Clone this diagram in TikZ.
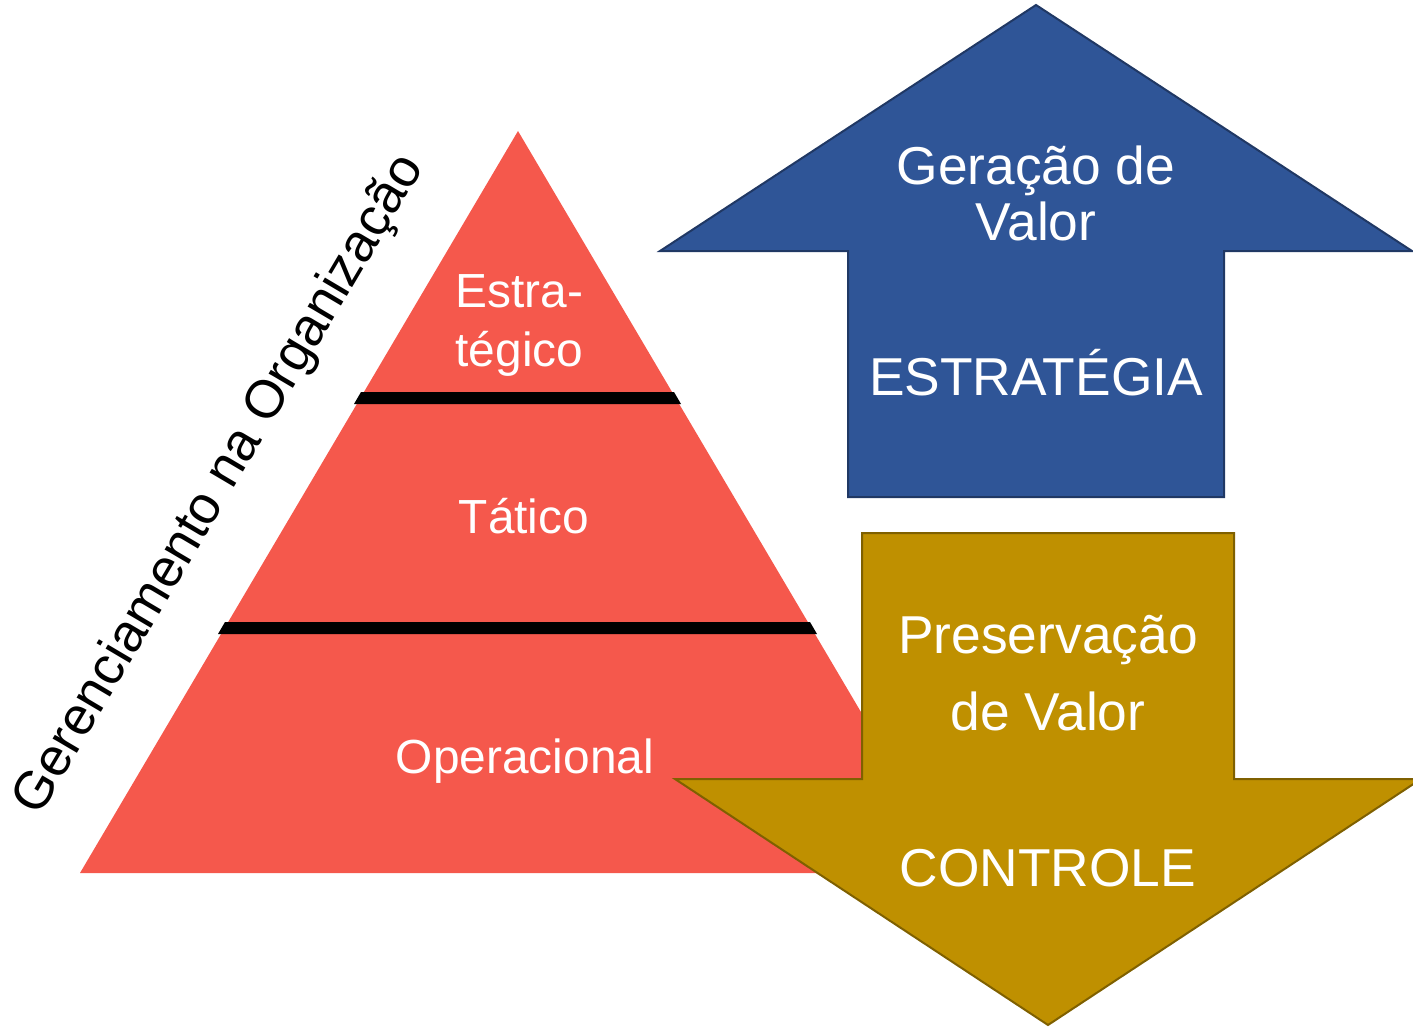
\documentclass[tikz,border=0pt]{standalone}
\usepackage{fontspec}
\setmainfont{Liberation Sans}
\definecolor{pyr}{HTML}{F5584C}
\definecolor{blu}{HTML}{2F5597}
\definecolor{bluD}{HTML}{203864}
\definecolor{gold}{HTML}{BF9000}
\definecolor{goldD}{HTML}{7F6000}
\tikzset{
  big/.style={text=white, font=\fontsize{40}{47}\selectfont, anchor=base, inner sep=0pt},
  mid/.style={text=white, font=\fontsize{35.9}{42}\selectfont, anchor=base, inner sep=0pt},
  band/.style={fill=black},
}
\begin{document}
\begin{tikzpicture}[x=0.75pt,y=-0.75pt]
\useasboundingbox (0,0) rectangle (1413,1027);
\begin{scope}
\clip (0,0) rectangle (1413,1027);
% pyramid
\coordinate (apex) at (518,131);
\coordinate (bl) at (80,873);
\coordinate (br) at (956,873);
\fill[pyr] (apex) -- (bl) -- (br) -- cycle;
\coordinate (b1a) at (361,392);
\coordinate (b1b) at (674,392);
\coordinate (b1c) at (681,404);
\coordinate (b1d) at (354,404);
\coordinate (b2a) at (225,622);
\coordinate (b2b) at (810,622);
\coordinate (b2c) at (817,634);
\coordinate (b2d) at (218,634);
\fill[band] (b1a) -- (b1b) -- (b1c) -- (b1d) -- cycle;
\fill[band] (b2a) -- (b2b) -- (b2c) -- (b2d) -- cycle;
\node[mid] (estra) at (519.5,307) {Estra-};
\node[mid] (teg) at (519.5,366) {tégico};
\node[mid] (tat) at (524,533) {Tático};
\node[mid] (oper) at (525,773) {Operacional};
% side label
\node[font=\fontsize{40}{47}\selectfont, rotate=59.4, inner sep=0pt] (ger) at (220,485) {Gerenciamento na Organização};
% up arrow
\fill[blu, draw=bluD, line width=1.5pt] (848,497) -- (848,251) -- (660,251) -- (1036,5) -- (1412,251) -- (1224,251) -- (1224,497) -- cycle;
\node[big] (ger1) at (1036,185) {Geração de};
\node[big] (ger2) at (1036,240) {Valor};
\node[big] (estr) at (1036,395) {ESTRATÉGIA};
% down arrow
\fill[gold, draw=goldD, line width=1.5pt] (862,533) -- (1234,533) -- (1234,779) -- (1421,779) -- (1048,1025) -- (675,779) -- (862,779) -- cycle;
\node[big] (pres1) at (1048,653) {Preservação};
\node[big] (pres2) at (1048,730) {de Valor};
\node[big] (ctrl) at (1048,886) {CONTROLE};
\end{scope}
\end{tikzpicture}
\end{document}
